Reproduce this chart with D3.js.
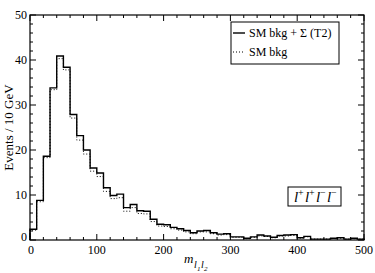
<!DOCTYPE html>
<html>
<head>
<meta charset="utf-8">
<script src="https://cdn.jsdelivr.net/npm/d3@7"></script>
<style>
  body { margin: 0; background: #fff; }
  text { font-family: "Liberation Serif", "DejaVu Serif", serif; fill: #000; }
</style>
</head>
<body>
<script>
// bin edges every 10 GeV from 0 to 500
let binWidth = 10;

// SM bkg + Sigma (T2), solid
let sigBkg = [2.4, 8.8, 18.6, 33.8, 40.9, 38.4, 27.9, 23.2, 20.0, 16.0,
              14.9, 11.6, 9.9, 10.2, 7.2, 7.9, 6.5, 6.4, 4.6, 3.5,
              3.4, 2.8, 2.5, 2.1, 1.6, 2.0, 2.1, 1.6, 1.3, 1.4,
              0.7, 0.7, 0.4, 0.7, 1.1, 0.9, 0.6, 1.0, 1.1, 1.2,
              0.5, 0.8, 0.2, 0.2, 0.2, 0.4, 0.5, 0.2, 0.4, 0.2];

// SM bkg only, dotted
let smBkg = [2.2, 8.5, 18.3, 33.4, 40.3, 37.8, 27.1, 22.2, 19.1, 15.3,
             14.1, 10.8, 9.2, 9.4, 6.4, 7.2, 5.9, 5.8, 4.1, 3.1,
             3.0, 2.5, 2.2, 1.8, 1.4, 1.8, 1.8, 1.4, 1.1, 1.2,
             0.6, 0.6, 0.3, 0.6, 0.9, 0.8, 0.5, 0.9, 0.9, 1.0,
             0.4, 0.7, 0.2, 0.2, 0.2, 0.3, 0.4, 0.2, 0.3, 0.2];

let xTicks = [0, 100, 200, 300, 400, 500];
let yTicks = [0, 10, 20, 30, 40, 50];

let fullSVGWidth = 375;
let fullSVGHeight = 273;
let margins = { top: 15, right: 11, bottom: 33, left: 30 };

let svg = d3.select("body").append("svg")
    .attr("width", fullSVGWidth)
    .attr("height", fullSVGHeight);

let x = d3.scaleLinear().domain([0, 500]).range([margins.left, fullSVGWidth - margins.right]);
let y = d3.scaleLinear().domain([0, 50]).range([fullSVGHeight - margins.bottom, margins.top]);

function stepPath(vals) {
    let pts = [[0, 0]];
    vals.forEach(function(v, i) {
        pts.push([i * binWidth, v]);
        pts.push([(i + 1) * binWidth, v]);
    });
    pts.push([vals.length * binWidth, 0]);
    return d3.line().x(d => x(d[0])).y(d => y(d[1]))(pts);
}

// histograms
svg.append("path")
    .attr("d", stepPath(smBkg))
    .attr("fill", "none")
    .attr("stroke", "#000")
    .attr("stroke-width", 1)
    .attr("stroke-dasharray", "1,2");

svg.append("path")
    .attr("d", stepPath(sigBkg))
    .attr("fill", "none")
    .attr("stroke", "#000")
    .attr("stroke-width", 1.4);

// axes with inward ticks, on all four sides
let x0 = x.range()[0], x1 = x.range()[1], y0 = y.range()[0], y1 = y.range()[1];

let minorX = d3.range(0, 501, 20);
let minorY = d3.range(0, 51, 2);

let ticks = svg.append("g").attr("stroke", "#000").attr("stroke-width", 1);

minorX.forEach(function(v) {
    let len = (v % 100 === 0) ? 6 : 3;
    ticks.append("line").attr("x1", x(v)).attr("x2", x(v)).attr("y1", y0).attr("y2", y0 - len);
    ticks.append("line").attr("x1", x(v)).attr("x2", x(v)).attr("y1", y1).attr("y2", y1 + len);
});
minorY.forEach(function(v) {
    let len = (v % 10 === 0) ? 6 : 3;
    ticks.append("line").attr("x1", x0).attr("x2", x0 + len).attr("y1", y(v)).attr("y2", y(v));
    ticks.append("line").attr("x1", x1).attr("x2", x1 - len).attr("y1", y(v)).attr("y2", y(v));
});

svg.append("rect")
    .attr("x", x0).attr("y", y1)
    .attr("width", x1 - x0).attr("height", y0 - y1)
    .attr("fill", "none").attr("stroke", "#000").attr("stroke-width", 1.2);

// tick labels
svg.selectAll(".xl").data(xTicks).enter().append("text")
    .attr("x", d => x(d) + (d === 0 ? 1 : 0))
    .attr("y", y0 + 14)
    .attr("text-anchor", "middle")
    .style("font-size", "12px")
    .text(d => d);

svg.selectAll(".yl").data(yTicks).enter().append("text")
    .attr("x", x0 - 3)
    .attr("y", d => y(d) + 4 - (d === 0 ? 3 : 0))
    .attr("text-anchor", "end")
    .style("font-size", "12px")
    .text(d => d);

// axis titles
svg.append("text")
    .attr("transform", "translate(13," + ((y0 + y1) / 2) + ") rotate(-90)")
    .attr("text-anchor", "middle")
    .style("font-size", "13px")
    .text("Events / 10 GeV");

// m_{l1 l2}
let xt = svg.append("g").style("font-style", "italic");
xt.append("text").attr("x", 184).attr("y", 263).style("font-size", "13px").text("m");
xt.append("text").attr("x", 194).attr("y", 268).style("font-size", "10px").text("l");
xt.append("text").attr("x", 197).attr("y", 271).style("font-size", "7px").text("1");
xt.append("text").attr("x", 201).attr("y", 268).style("font-size", "10px").text("l");
xt.append("text").attr("x", 204).attr("y", 271).style("font-size", "7px").text("2");

// legend
let lg = svg.append("g");
lg.append("rect")
    .attr("x", 231).attr("y", 22).attr("width", 108).attr("height", 42)
    .attr("fill", "#fff").attr("stroke", "#000").attr("stroke-width", 1);
lg.append("line").attr("x1", 233).attr("x2", 245).attr("y1", 33).attr("y2", 33)
    .attr("stroke", "#000").attr("stroke-width", 1.4);
lg.append("line").attr("x1", 233).attr("x2", 245).attr("y1", 52).attr("y2", 52)
    .attr("stroke", "#000").attr("stroke-width", 1).attr("stroke-dasharray", "1,2");
lg.append("text").attr("x", 249).attr("y", 37).style("font-size", "12px").text("SM bkg + \u03A3 (T2)");
lg.append("text").attr("x", 249).attr("y", 56).style("font-size", "12px").text("SM bkg");

// channel label
svg.append("rect")
    .attr("x", 288).attr("y", 187).attr("width", 53).attr("height", 19)
    .attr("fill", "#fff").attr("stroke", "#000").attr("stroke-width", 1);
let chars = ["+", "+", "\u2212", "\u2212"];
let ch = svg.append("g");
chars.forEach(function(c, i) {
    let cx = 294 + i * 11;
    ch.append("text").attr("x", cx).attr("y", 202)
        .style("font-size", "15px").style("font-style", "italic").text("l");
    ch.append("text").attr("x", cx + 4).attr("y", 196)
        .style("font-size", "10px").text(c);
});
</script>
</body>
</html>
